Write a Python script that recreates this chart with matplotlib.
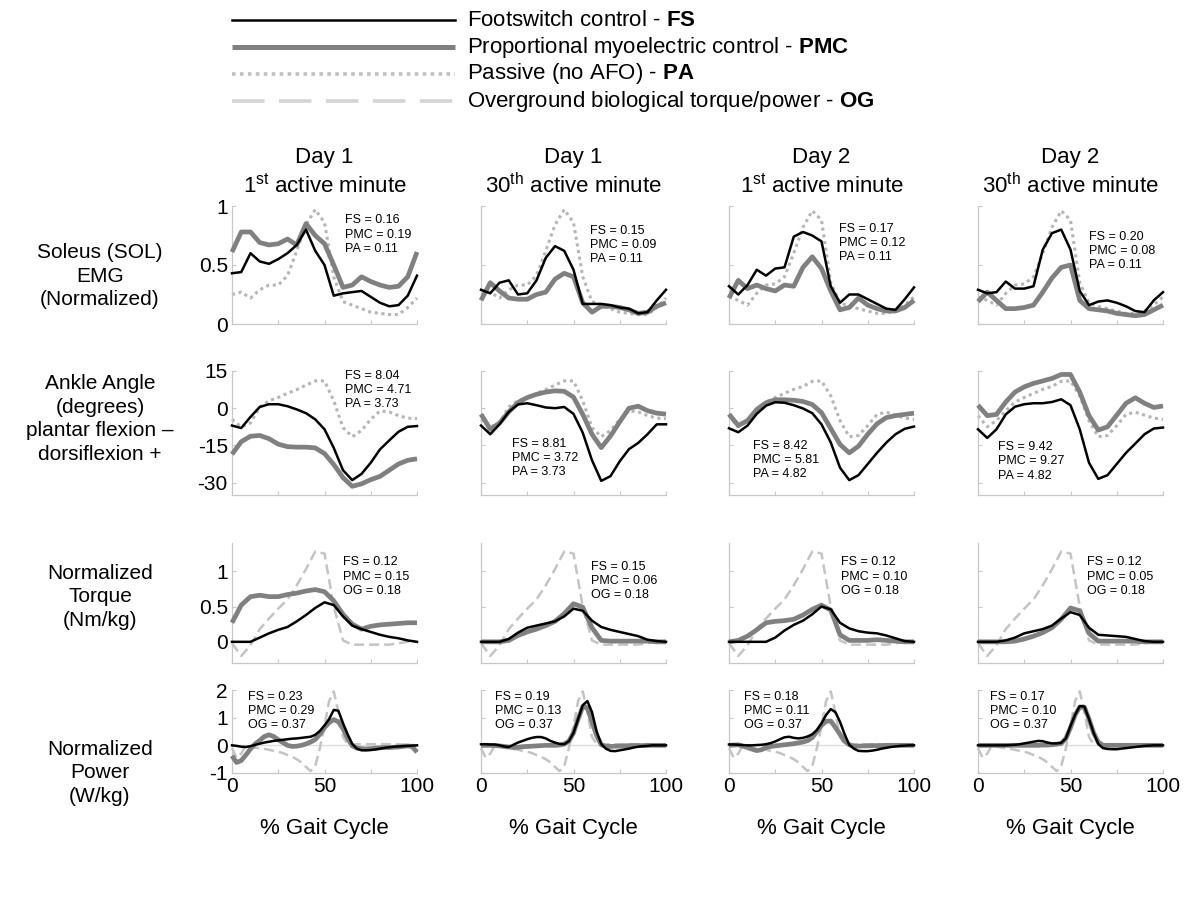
import numpy as np
import matplotlib
matplotlib.use("Agg")
import matplotlib.pyplot as plt

plt.rcParams['font.family'] = ['Liberation Sans', 'DejaVu Sans']
plt.rcParams['mathtext.fontset'] = 'custom'
plt.rcParams['mathtext.rm'] = 'Liberation Sans'
plt.rcParams['mathtext.it'] = 'Liberation Sans:italic'
plt.rcParams['mathtext.bf'] = 'Liberation Sans:bold'
plt.rcParams['axes.unicode_minus'] = False

# gait cycle grids (%)
x5 = np.arange(0, 101, 5)
x25 = np.arange(0, 100.1, 2.5)

# ---- soleus EMG (normalized) ----
emg_fs_d1m1 = [0.43, 0.44, 0.60, 0.53, 0.51, 0.55, 0.60, 0.67, 0.80, 0.62, 0.50, 0.24, 0.26, 0.27, 0.28, 0.23, 0.18, 0.15, 0.16, 0.24, 0.41]
emg_pmc_d1m1 = [0.61, 0.78, 0.78, 0.69, 0.67, 0.68, 0.72, 0.67, 0.85, 0.75, 0.68, 0.50, 0.31, 0.33, 0.40, 0.36, 0.33, 0.31, 0.32, 0.40, 0.61]
emg_fs_d1m30 = [0.29, 0.26, 0.35, 0.37, 0.25, 0.26, 0.37, 0.56, 0.66, 0.62, 0.46, 0.17, 0.17, 0.17, 0.16, 0.14, 0.13, 0.09, 0.10, 0.20, 0.29]
emg_pmc_d1m30 = [0.20, 0.35, 0.28, 0.22, 0.21, 0.21, 0.25, 0.27, 0.38, 0.43, 0.40, 0.18, 0.10, 0.15, 0.15, 0.14, 0.12, 0.09, 0.10, 0.15, 0.18]
emg_fs_d2m1 = [0.32, 0.25, 0.33, 0.46, 0.41, 0.47, 0.48, 0.74, 0.78, 0.75, 0.70, 0.32, 0.18, 0.25, 0.25, 0.21, 0.17, 0.13, 0.12, 0.21, 0.31]
emg_pmc_d2m1 = [0.22, 0.37, 0.30, 0.33, 0.30, 0.28, 0.33, 0.32, 0.48, 0.57, 0.47, 0.28, 0.12, 0.14, 0.22, 0.16, 0.13, 0.11, 0.11, 0.14, 0.20]
emg_fs_d2m30 = [0.29, 0.26, 0.27, 0.36, 0.30, 0.30, 0.32, 0.63, 0.77, 0.80, 0.63, 0.28, 0.16, 0.19, 0.20, 0.18, 0.15, 0.11, 0.10, 0.20, 0.27]
emg_pmc_d2m30 = [0.19, 0.27, 0.20, 0.13, 0.13, 0.14, 0.16, 0.27, 0.39, 0.48, 0.50, 0.20, 0.13, 0.12, 0.11, 0.09, 0.08, 0.07, 0.08, 0.12, 0.16]
emg_pa_d1 = [0.25, 0.27, 0.22, 0.29, 0.33, 0.33, 0.41, 0.62, 0.84, 0.97, 0.86, 0.40, 0.19, 0.16, 0.13, 0.10, 0.09, 0.08, 0.08, 0.14, 0.22]
emg_pa_d2 = [0.23, 0.20, 0.16, 0.26, 0.33, 0.34, 0.40, 0.60, 0.82, 0.96, 0.88, 0.35, 0.18, 0.15, 0.13, 0.11, 0.09, 0.09, 0.11, 0.16, 0.23]

# ---- ankle angle (deg) ----
ang_fs_d1m1 = [-7.0, -8.0, -3.5, 0.5, 1.6, 1.6, 0.8, -0.5, -2.0, -4.5, -8.5, -16.0, -25.0, -29.0, -26.5, -22.0, -16.6, -13.0, -9.5, -7.5, -7.2]
ang_pmc_d1m1 = [-18.6, -13.5, -11.3, -11.0, -12.3, -14.5, -15.5, -15.7, -15.7, -16.0, -18.3, -22.7, -28.0, -31.5, -30.5, -28.8, -27.5, -25.0, -22.5, -21.0, -20.4]
ang_fs_d1m30 = [-7.0, -10.5, -6.5, -1.5, 1.5, 2.0, 1.2, 0.3, 0.0, 0.5, -2.3, -9.9, -21.0, -29.3, -27.4, -21.4, -16.5, -14.0, -10.5, -6.5, -6.5]
ang_pmc_d1m30 = [-2.4, -8.5, -6.0, -1.5, 2.3, 4.3, 5.6, 6.5, 7.0, 6.8, 4.5, -2.5, -10.5, -15.9, -11.2, -5.5, 0.0, 0.8, -1.0, -2.0, -2.4]
ang_fs_d2m1 = [-8.1, -9.7, -7.0, -2.3, 1.0, 2.4, 2.2, 1.2, -0.1, -2.0, -6.5, -13.8, -24.0, -29.0, -27.0, -22.5, -18.0, -13.9, -10.5, -8.3, -7.4]
ang_pmc_d2m1 = [-2.4, -7.0, -5.0, -0.5, 2.2, 3.4, 3.4, 3.2, 2.7, 1.5, -1.8, -8.2, -14.6, -18.0, -15.3, -10.5, -6.3, -3.8, -3.0, -2.5, -2.0]
ang_fs_d2m30 = [-8.5, -12.0, -8.5, -2.5, 0.6, 1.6, 2.0, 2.0, 2.5, 3.6, 1.2, -8.5, -22.0, -28.5, -27.0, -22.5, -18.0, -14.3, -10.5, -8.2, -7.8]
ang_pmc_d2m30 = [1.2, -3.0, -2.5, 2.5, 6.5, 8.6, 10.0, 11.0, 12.0, 13.6, 13.6, 6.5, -3.0, -8.8, -7.5, -2.8, 2.0, 4.2, 2.0, 0.3, 0.9]
ang_pa_d1 = [-4.5, -7.5, -6.0, 0.5, 3.0, 4.3, 6.0, 7.5, 9.3, 11.0, 11.0, 3.0, -7.8, -11.5, -9.0, -4.5, -1.1, -1.5, -3.0, -4.0, -4.2]
ang_pa_d2 = [-3.0, -7.5, -5.0, -1.0, 2.5, 4.3, 6.0, 7.6, 8.8, 10.8, 11.0, 5.0, -5.0, -11.5, -11.0, -7.0, -2.5, -1.6, -2.8, -4.0, -4.5]

# ---- normalized torque (Nm/kg) ----
trq_fs_d1m1 = [0.0, 0.0, 0.0, 0.06, 0.12, 0.17, 0.21, 0.29, 0.38, 0.48, 0.56, 0.52, 0.36, 0.23, 0.18, 0.14, 0.10, 0.07, 0.05, 0.02, 0.0]
trq_pmc_d1m1 = [0.27, 0.52, 0.64, 0.66, 0.64, 0.64, 0.67, 0.69, 0.72, 0.74, 0.71, 0.58, 0.39, 0.25, 0.18, 0.22, 0.24, 0.25, 0.26, 0.27, 0.27]
trq_fs_d1m30 = [0.0, 0.0, 0.0, 0.04, 0.13, 0.20, 0.23, 0.26, 0.29, 0.36, 0.47, 0.44, 0.30, 0.21, 0.17, 0.14, 0.11, 0.08, 0.03, 0.01, 0.0]
trq_pmc_d1m30 = [0.0, 0.0, 0.0, 0.02, 0.09, 0.14, 0.18, 0.23, 0.29, 0.40, 0.54, 0.49, 0.20, 0.02, 0.01, 0.01, 0.01, 0.01, 0.01, 0.0, 0.0]
trq_fs_d2m1 = [0.0, 0.0, 0.0, 0.0, 0.0, 0.06, 0.16, 0.24, 0.30, 0.39, 0.50, 0.46, 0.27, 0.19, 0.15, 0.13, 0.12, 0.09, 0.05, 0.01, 0.0]
trq_pmc_d2m1 = [0.0, 0.02, 0.08, 0.17, 0.27, 0.29, 0.30, 0.32, 0.38, 0.46, 0.52, 0.45, 0.10, 0.02, 0.02, 0.02, 0.03, 0.02, 0.01, 0.0, 0.0]
trq_fs_d2m30 = [0.0, 0.0, 0.0, 0.02, 0.06, 0.12, 0.15, 0.18, 0.23, 0.33, 0.42, 0.38, 0.20, 0.10, 0.09, 0.08, 0.07, 0.04, 0.01, 0.0, 0.0]
trq_pmc_d2m30 = [0.0, 0.0, 0.0, 0.0, 0.01, 0.04, 0.08, 0.13, 0.20, 0.32, 0.48, 0.44, 0.12, 0.01, 0.01, 0.01, 0.01, 0.01, 0.0, 0.0, 0.0]
trq_og = [-0.02, -0.20, -0.05, 0.18, 0.33, 0.47, 0.60, 0.80, 1.03, 1.28, 1.25, 0.50, 0.02, -0.04, -0.04, -0.04, -0.04, -0.04, -0.02, 0.0, 0.0]

# ---- normalized power (W/kg), 2.5 % steps ----
pwr_fs_d1m1 = [0.0, -0.02, -0.05, -0.06, -0.03, 0.02, 0.06, 0.10, 0.13, 0.16, 0.18, 0.20, 0.22, 0.24, 0.25, 0.27, 0.29, 0.31, 0.38, 0.52,
               0.72, 0.95, 1.28, 1.25, 0.80, 0.40, 0.05, -0.12, -0.18, -0.18, -0.17, -0.15, -0.12, -0.09, -0.07, -0.05, -0.04, -0.03, -0.02, -0.01, 0.0]
pwr_pmc_d1m1 = [-0.38, -0.62, -0.55, -0.35, -0.13, 0.05, 0.18, 0.32, 0.38, 0.32, 0.20, 0.10, 0.0, -0.04, -0.03, 0.0, 0.05, 0.12, 0.21, 0.40,
                0.64, 0.82, 0.93, 0.85, 0.60, 0.25, -0.02, -0.10, -0.12, -0.13, -0.12, -0.10, -0.09, -0.08, -0.08, -0.07, -0.06, -0.04, -0.02, -0.05, -0.25]
pwr_fs_d1m30 = [0.04, 0.04, 0.03, 0.03, 0.0, -0.04, -0.06, 0.02, 0.10, 0.16, 0.22, 0.27, 0.30, 0.30, 0.25, 0.16, 0.10, 0.05, 0.04, 0.15,
                0.45, 0.95, 1.45, 1.60, 1.20, 0.50, 0.05, -0.12, -0.20, -0.21, -0.18, -0.15, -0.12, -0.08, -0.05, -0.03, -0.02, 0.0, 0.0, 0.0, 0.0]
pwr_pmc_d1m30 = [0.0, 0.0, 0.0, -0.01, -0.02, -0.04, -0.06, -0.08, -0.07, -0.05, -0.04, -0.03, -0.02, -0.01, 0.0, 0.0, 0.0, 0.01, 0.05, 0.15,
                 0.45, 0.95, 1.40, 1.35, 0.85, 0.35, 0.02, -0.04, -0.04, -0.03, -0.03, -0.02, -0.01, -0.01, -0.01, -0.01, 0.0, 0.0, 0.0, 0.0, 0.0]
pwr_fs_d2m1 = [0.03, 0.03, 0.02, 0.01, 0.0, 0.0, 0.01, 0.02, 0.04, 0.08, 0.14, 0.22, 0.29, 0.31, 0.27, 0.25, 0.27, 0.32, 0.40, 0.55,
               0.80, 1.10, 1.31, 1.20, 0.85, 0.40, 0.02, -0.12, -0.20, -0.21, -0.21, -0.19, -0.16, -0.12, -0.09, -0.06, -0.04, -0.02, -0.01, 0.0, 0.0]
pwr_pmc_d2m1 = [0.0, 0.01, 0.02, -0.03, -0.08, -0.14, -0.19, -0.16, -0.08, -0.04, -0.02, 0.0, 0.02, 0.04, 0.06, 0.09, 0.12, 0.17, 0.28, 0.50,
                0.72, 0.87, 0.88, 0.65, 0.40, 0.15, 0.02, -0.03, -0.03, -0.02, -0.02, -0.01, -0.01, -0.01, 0.0, 0.0, 0.0, 0.0, 0.0, 0.0, 0.0]
pwr_fs_d2m30 = [0.0, 0.0, 0.0, 0.0, 0.0, 0.0, 0.0, 0.01, 0.02, 0.04, 0.07, 0.10, 0.13, 0.16, 0.15, 0.10, 0.07, 0.07, 0.09, 0.25,
                0.70, 1.10, 1.42, 1.40, 0.95, 0.45, 0.05, -0.10, -0.13, -0.14, -0.14, -0.12, -0.10, -0.08, -0.06, -0.04, -0.02, -0.01, 0.0, 0.0, 0.0]
pwr_pmc_d2m30 = [0.0, 0.0, 0.0, 0.0, 0.0, 0.0, 0.0, 0.0, 0.0, 0.0, 0.0, 0.0, 0.0, 0.0, 0.01, 0.01, 0.02, 0.04, 0.07, 0.25,
                 0.64, 1.10, 1.38, 1.38, 0.95, 0.45, 0.12, 0.0, 0.0, 0.0, 0.0, 0.0, 0.0, 0.0, 0.0, 0.0, 0.0, 0.0, 0.0, 0.0, 0.0]
pwr_og = [-0.10, -0.45, -0.30, 0.0, -0.04, -0.08, -0.11, -0.13, -0.16, -0.20, -0.23, -0.28, -0.35, -0.42, -0.50, -0.62, -0.78, -0.93, -0.75, -0.10,
          0.70, 1.60, 1.95, 1.20, 0.30, 0.05, 0.03, 0.04, 0.04, 0.04, 0.04, 0.04, 0.04, 0.04, 0.04, 0.04, 0.04, 0.03, 0.02, 0.01, 0.0]

# ---- error values printed in each panel ----
emg_err_fs = [0.16, 0.15, 0.17, 0.20]
emg_err_pmc = [0.19, 0.09, 0.12, 0.08]
emg_err_pa = [0.11, 0.11, 0.11, 0.11]
ang_err_fs = [8.04, 8.81, 8.42, 9.42]
ang_err_pmc = [4.71, 3.72, 5.81, 9.27]
ang_err_pa = [3.73, 3.73, 4.82, 4.82]
trq_err_fs = [0.12, 0.15, 0.12, 0.12]
trq_err_pmc = [0.15, 0.06, 0.10, 0.05]
trq_err_og = [0.18, 0.18, 0.18, 0.18]
pwr_err_fs = [0.23, 0.19, 0.18, 0.17]
pwr_err_pmc = [0.29, 0.13, 0.11, 0.10]
pwr_err_og = [0.37, 0.37, 0.37, 0.37]

col_day = ["Day 1", "Day 1", "Day 2", "Day 2"]
col_min = [r"1$^{\mathrm{st}}$ active minute", r"30$^{\mathrm{th}}$ active minute",
           r"1$^{\mathrm{st}}$ active minute", r"30$^{\mathrm{th}}$ active minute"]
row_names = ["Soleus (SOL)\nEMG\n(Normalized)",
             "Ankle Angle\n(degrees)\nplantar flexion \u2013\ndorsiflexion +",
             "Normalized\nTorque\n(Nm/kg)",
             "Normalized\nPower\n(W/kg)"]

# styles
FS_KW = dict(color="black", lw=1.8, zorder=4)
PMC_KW = dict(color="#808080", lw=3.4, zorder=3, solid_capstyle="butt")
PA_KW = dict(color="#b5b5b5", lw=2.2, ls=(0, (1, 1.2)), zorder=2)
OG_KW = dict(color="#c4c4c4", lw=1.8, ls=(0, (4, 2)), zorder=2)
SPINE = "#c8c8c8"

W, H = 1200, 900
fig = plt.figure(figsize=(12, 9), dpi=100)

col_left = [232, 481, 729, 978]
ax_w = 185
row_box = [(206, 324), (371, 495), (543, 663), (690, 773)]

# table of panels built from the arrays
emg_fs = [emg_fs_d1m1, emg_fs_d1m30, emg_fs_d2m1, emg_fs_d2m30]
emg_pmc = [emg_pmc_d1m1, emg_pmc_d1m30, emg_pmc_d2m1, emg_pmc_d2m30]
emg_pa = [emg_pa_d1, emg_pa_d1, emg_pa_d2, emg_pa_d2]
ang_fs = [ang_fs_d1m1, ang_fs_d1m30, ang_fs_d2m1, ang_fs_d2m30]
ang_pmc = [ang_pmc_d1m1, ang_pmc_d1m30, ang_pmc_d2m1, ang_pmc_d2m30]
ang_pa = [ang_pa_d1, ang_pa_d1, ang_pa_d2, ang_pa_d2]
trq_fs = [trq_fs_d1m1, trq_fs_d1m30, trq_fs_d2m1, trq_fs_d2m30]
trq_pmc = [trq_pmc_d1m1, trq_pmc_d1m30, trq_pmc_d2m1, trq_pmc_d2m30]
pwr_fs = [pwr_fs_d1m1, pwr_fs_d1m30, pwr_fs_d2m1, pwr_fs_d2m30]
pwr_pmc = [pwr_pmc_d1m1, pwr_pmc_d1m30, pwr_pmc_d2m1, pwr_pmc_d2m30]

ylims = [(0, 1), (-35, 15), (-0.3, 1.4), (-1, 2)]
yticks = [[0, 0.5, 1], [-30, -15, 0, 15], [0, 0.5, 1], [-1, 0, 1, 2]]
yticklabels = [["0", "0.5", "1"], ["-30", "-15", "0", "15"], ["0", "0.5", "1"], ["-1", "0", "1", "2"]]

# where the error text goes (data coords, top-left)
txt_pos = [
    [(61, 0.93), (59, 0.84), (59.5, 0.86), (60, 0.79)],
    [(61, 15.5), (17, -12.0), (13, -12.8), (11, -13.3)],
    [(60, 1.21), (59.5, 1.15), (60.5, 1.21), (59, 1.21)],
    [(8.5, 1.97), (7.5, 1.97), (8, 1.97), (6.5, 1.97)],
]

for r in range(4):
    top, bot = row_box[r]
    for c in range(4):
        ax = fig.add_axes([col_left[c] / W, 1 - bot / H, ax_w / W, (bot - top) / H])
        if r == 0:
            ax.plot(x5, emg_pa[c], **PA_KW)
            ax.plot(x5, emg_pmc[c], **PMC_KW)
            ax.plot(x5, emg_fs[c], **FS_KW)
            lines = ["FS = %.2f" % emg_err_fs[c], "PMC = %.2f" % emg_err_pmc[c], "PA = %.2f" % emg_err_pa[c]]
        elif r == 1:
            ax.plot(x5, ang_pa[c], **PA_KW)
            ax.plot(x5, ang_pmc[c], **PMC_KW)
            ax.plot(x5, ang_fs[c], **FS_KW)
            lines = ["FS = %.2f" % ang_err_fs[c], "PMC = %.2f" % ang_err_pmc[c], "PA = %.2f" % ang_err_pa[c]]
        elif r == 2:
            ax.plot(x5, trq_og, **OG_KW)
            ax.plot(x5, trq_pmc[c], **PMC_KW)
            ax.plot(x5, trq_fs[c], **FS_KW)
            lines = ["FS = %.2f" % trq_err_fs[c], "PMC = %.2f" % trq_err_pmc[c], "OG = %.2f" % trq_err_og[c]]
        else:
            ax.axhline(0, color="#dddddd", lw=1.0, zorder=1)
            ax.plot(x25, pwr_og, **OG_KW)
            ax.plot(x25, pwr_pmc[c], **PMC_KW)
            ax.plot(x25, pwr_fs[c], **FS_KW)
            lines = ["FS = %.2f" % pwr_err_fs[c], "PMC = %.2f" % pwr_err_pmc[c], "OG = %.2f" % pwr_err_og[c]]

        for ln in ax.get_lines():
            ln.set_clip_on(False)

        tx, ty = txt_pos[r][c]
        ax.text(tx, ty, "\n".join(lines), fontsize=9, va="top", ha="left", linespacing=1.25, zorder=6)

        ax.set_xlim(0, 100)
        ax.set_ylim(*ylims[r])
        for s in ["top", "right"]:
            ax.spines[s].set_visible(False)
        for s in ["left", "bottom"]:
            ax.spines[s].set_color(SPINE)
            ax.spines[s].set_linewidth(0.9)
        ax.set_xticks([0, 25, 50, 75, 100])
        ax.set_yticks(yticks[r])
        ax.tick_params(direction="in", length=3, color=SPINE, labelsize=15, pad=3)
        if r == 3:
            ax.set_xticklabels(["0", "", "50", "", "100"])
            ax.set_xlabel("% Gait Cycle", fontsize=16, labelpad=16)
        else:
            ax.set_xticklabels([])
        if c == 0:
            ax.set_yticklabels(yticklabels[r])
        else:
            ax.set_yticklabels([])

# column titles
for c in range(4):
    cx = (col_left[c] + ax_w / 2) / W
    fig.text(cx, 1 - 158 / H, col_day[c], fontsize=16, ha="center", va="center")
    fig.text(cx, 1 - 186 / H, col_min[c], fontsize=16, ha="center", va="center")

# row labels
row_cy = [276, 419, 597, 773]
for r in range(4):
    fig.text(100 / W, 1 - row_cy[r] / H, row_names[r], fontsize=15, ha="center", va="center",
             linespacing=1.3)

# legend drawn by hand at the top
leg = fig.add_axes([0, 0, 1, 1], facecolor="none")
leg.set_xlim(0, W)
leg.set_ylim(H, 0)
leg.axis("off")
leg_labels = [r"Footswitch control - $\mathbf{FS}$",
              r"Proportional myoelectric control - $\mathbf{PMC}$",
              r"Passive (no AFO) - $\mathbf{PA}$",
              r"Overground biological torque/power - $\mathbf{OG}$"]
leg_y = [20, 47, 74, 101]
leg_styles = [dict(color="black", lw=1.8),
              dict(color="#808080", lw=3.6, solid_capstyle="butt"),
              dict(color="#c0c0c0", lw=2.6, ls=(0, (1, 1.2))),
              dict(color="#d4d4d4", lw=2.6, ls=(0, (9, 4)))]
for lab, yy, st in zip(leg_labels, leg_y, leg_styles):
    leg.plot([232, 455], [yy, yy], **st)
    leg.text(467, yy, lab, fontsize=16, va="center", ha="left")

fig.savefig("out.png", dpi=100)
